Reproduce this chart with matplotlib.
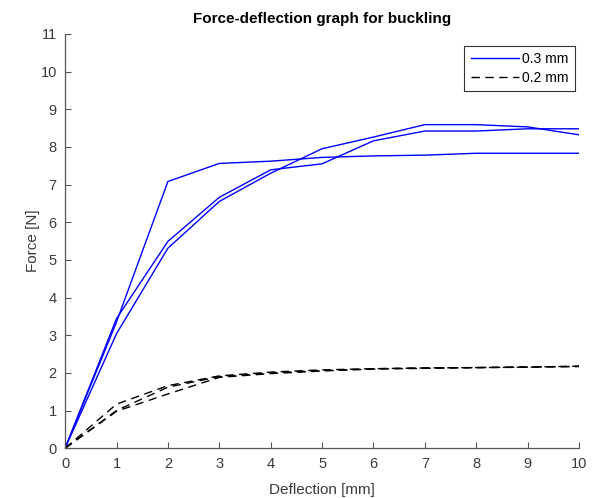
import matplotlib
matplotlib.use("Agg")
import matplotlib.pyplot as plt
import numpy as np

plt.rcParams['font.family'] = ['Liberation Sans', 'DejaVu Sans']

deflection = [0, 1, 2, 3, 4, 5, 6, 7, 8, 9, 10]

# 0.3 mm specimens (blue, solid)
force_03_a = [0, 3.35, 7.08, 7.56, 7.62, 7.72, 7.76, 7.78, 7.83, 7.83, 7.83]
force_03_b = [0, 3.44, 5.49, 6.66, 7.39, 7.55, 8.16, 8.42, 8.42, 8.48, 8.48]
force_03_c = [0, 3.04, 5.31, 6.55, 7.30, 7.95, 8.26, 8.59, 8.59, 8.53, 8.32]

# 0.2 mm specimens (black, dashed)
force_02_a = [0, 1.17, 1.66, 1.92, 2.02, 2.08, 2.11, 2.13, 2.14, 2.15, 2.18]
force_02_b = [0, 1.00, 1.62, 1.90, 2.00, 2.06, 2.11, 2.13, 2.14, 2.16, 2.17]
force_02_c = [0, 0.98, 1.44, 1.88, 1.98, 2.05, 2.10, 2.12, 2.14, 2.15, 2.17]

fig = plt.figure(figsize=(5.92, 4.98), dpi=100)
ax = fig.add_axes([0.110, 0.100, 0.868, 0.832])

blue = (0, 0, 1)
ax.plot(deflection, force_03_a, color=blue, lw=1.0, label='0.3 mm')
ax.plot(deflection, force_03_b, color=blue, lw=1.0)
ax.plot(deflection, force_03_c, color=blue, lw=1.0)
ax.plot(deflection, force_02_a, color='k', lw=1.0, ls=(0, (6, 4)), label='0.2 mm')
ax.plot(deflection, force_02_b, color='k', lw=1.0, ls=(0, (6, 4)))
ax.plot(deflection, force_02_c, color='k', lw=1.0, ls=(0, (6, 4)))

ax.set_xlim(0, 10)
ax.set_ylim(0, 11)
ax.set_xticks(range(0, 11))
ax.set_yticks(range(0, 12))

for s in ['top', 'right']:
    ax.spines[s].set_visible(False)
for s in ['left', 'bottom']:
    ax.spines[s].set_color('#555555')
    ax.spines[s].set_linewidth(0.9)
ax.tick_params(direction='in', length=4.5, width=0.8, colors='#555555',
               labelcolor='#3a3a3a', labelsize=10.5, pad=6)

ax.set_xlabel('Deflection [mm]', fontsize=11, color='#3a3a3a', labelpad=9)
ax.set_ylabel('Force [N]', fontsize=11, color='#3a3a3a', labelpad=0)
ax.set_title('Force-deflection graph for buckling', fontsize=11, fontweight='bold', pad=8)

leg = ax.legend(loc='upper right', bbox_to_anchor=(0.997, 0.978), fontsize=10,
                handlelength=3.5, handletextpad=0.2, borderpad=0.45,
                labelspacing=0.35, borderaxespad=0.2, fancybox=False, framealpha=1)
leg.get_frame().set_edgecolor('#333333')
leg.get_frame().set_linewidth(0.8)

fig.savefig('out.png', dpi=100)
